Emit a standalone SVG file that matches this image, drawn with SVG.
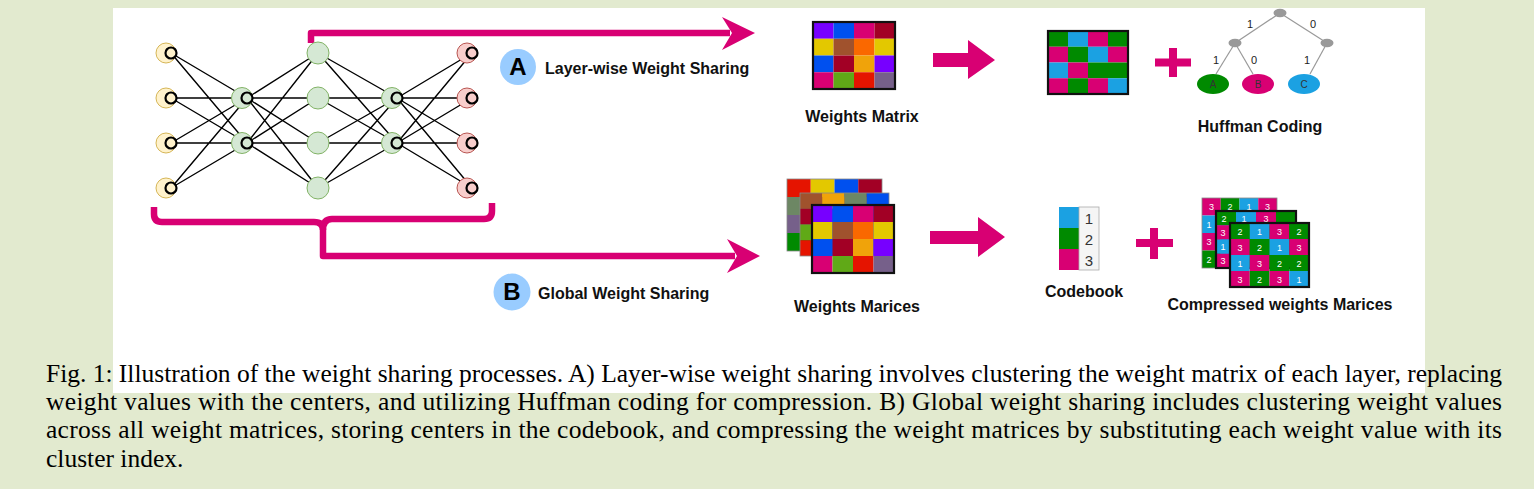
<svg xmlns="http://www.w3.org/2000/svg" width="1534" height="489" viewBox="0 0 1534 489">
<style>
.nn{stroke:#000;stroke-width:1.4;fill:none}
.ring{stroke:#000;stroke-width:2.2}
.yel{fill:#fff2cc;stroke:#d6b656;stroke-width:1}
.grn{fill:#d5e8d4;stroke:#82b366;stroke-width:1}
.red{fill:#f8cecc;stroke:#b85450;stroke-width:1}
.pk{fill:#d80073}
.pkl{stroke:#d80073;stroke-width:6.5;fill:none;stroke-linejoin:round}
.lbl{font-family:"Liberation Sans",Arial,sans-serif;font-weight:bold;font-size:16px;fill:#111}
.big{font-family:"Liberation Sans",Arial,sans-serif;font-weight:bold;font-size:24px;fill:#000;text-anchor:middle}
.num{font-family:"Liberation Sans",Arial,sans-serif;font-size:9px;fill:#fff;text-anchor:middle}
.hf{font-family:"Liberation Sans",Arial,sans-serif;font-size:11px;fill:#222;text-anchor:middle}
.hl{font-family:"Liberation Sans",Arial,sans-serif;font-size:10px;fill:#333;text-anchor:middle}
.cap{font-family:"Liberation Serif","Times New Roman",serif;font-size:25.5px;fill:#000}
.gl{stroke:#999;stroke-width:1.2}
.gn{fill:#999}
.bk{fill:none;stroke:#111;stroke-width:2.2}
.th{fill:none;stroke:#888;stroke-width:0.8}
</style>
<rect width="1534" height="489" fill="#e2eacf"/>
<rect x="113" y="8" width="1312" height="385" fill="#fff"/>

<g id="connectors">
  <g id="nn-edges">
    <path class="nn" d="M171,53L247,98M171,53L247,143M171,98L247,98M171,98L247,143M171,143L247,98M171,143L247,143M171,188L247,98M171,188L247,143"/>
    <path class="nn" d="M247,98L318,53M247,98L318,98M247,98L318,143M247,98L318,188M247,143L318,53M247,143L318,98M247,143L318,143M247,143L318,188"/>
    <path class="nn" d="M318,53L397,98M318,98L397,98M318,143L397,98M318,188L397,98M318,53L397,143M318,98L397,143M318,143L397,143M318,188L397,143"/>
    <path class="nn" d="M397,98L472,53M397,98L472,98M397,98L472,143M397,98L472,188M397,143L472,53M397,143L472,98M397,143L472,143M397,143L472,188"/>
  </g>
  <g id="arrow-A">
    <path class="pkl" d="M311,43V33H730"/>
    <polygon class="pk" points="755,33 722,17 732,33 722,50"/>
  </g>
  <g id="arrow-B">
    <path class="pkl" d="M154,207V214Q154,222 162,222H314Q323,222 323,230V256H735"/>
    <path class="pkl" d="M323,230Q323,219 332,219H484Q492,219 492,211V203"/>
    <polygon class="pk" points="760,256 727,239 737,256 727,273"/>
  </g>
  <polygon id="fat-arrow-top" class="pk" points="933,53 968,53 968,40 995,60 968,79 968,67 933,67"/>
  <polygon id="fat-arrow-bottom" class="pk" points="930,231 978,231 978,217 1005,237 978,257 978,244 930,244"/>
</g>

<g id="nn-input">
  <g id="in1"><circle class="yel" cx="166" cy="53" r="10"/><circle class="ring" fill="#fff2cc" cx="171" cy="53" r="5.5"/></g>
  <g id="in2"><circle class="yel" cx="166" cy="98" r="10"/><circle class="ring" fill="#fff2cc" cx="171" cy="98" r="5.5"/></g>
  <g id="in3"><circle class="yel" cx="166" cy="143" r="10"/><circle class="ring" fill="#fff2cc" cx="171" cy="143" r="5.5"/></g>
  <g id="in4"><circle class="yel" cx="166" cy="188" r="10"/><circle class="ring" fill="#fff2cc" cx="171" cy="188" r="5.5"/></g>
</g>
<g id="nn-hidden1">
  <g id="h1a"><circle class="grn" cx="242" cy="98" r="10.5"/><circle class="ring" fill="#d5e8d4" cx="247" cy="98" r="5.5"/></g>
  <g id="h1b"><circle class="grn" cx="242" cy="143" r="10.5"/><circle class="ring" fill="#d5e8d4" cx="247" cy="143" r="5.5"/></g>
</g>
<g id="nn-middle">
  <circle id="m1" class="grn" cx="318" cy="53" r="11"/>
  <circle id="m2" class="grn" cx="318" cy="98" r="11"/>
  <circle id="m3" class="grn" cx="318" cy="143" r="11"/>
  <circle id="m4" class="grn" cx="318" cy="188" r="11"/>
</g>
<g id="nn-hidden3">
  <g id="h3a"><circle class="grn" cx="392" cy="98" r="10.5"/><circle class="ring" fill="#d5e8d4" cx="397" cy="98" r="5.5"/></g>
  <g id="h3b"><circle class="grn" cx="392" cy="143" r="10.5"/><circle class="ring" fill="#d5e8d4" cx="397" cy="143" r="5.5"/></g>
</g>
<g id="nn-output">
  <g id="o1"><circle class="red" cx="467" cy="53" r="10"/><circle class="ring" fill="#f8cecc" cx="472" cy="53" r="5.5"/></g>
  <g id="o2"><circle class="red" cx="467" cy="98" r="10"/><circle class="ring" fill="#f8cecc" cx="472" cy="98" r="5.5"/></g>
  <g id="o3"><circle class="red" cx="467" cy="143" r="10"/><circle class="ring" fill="#f8cecc" cx="472" cy="143" r="5.5"/></g>
  <g id="o4"><circle class="red" cx="467" cy="188" r="10"/><circle class="ring" fill="#f8cecc" cx="472" cy="188" r="5.5"/></g>
</g>

<g id="label-A">
  <circle cx="518" cy="67" r="18" fill="#99ccff"/>
  <text class="big" x="518" y="75">A</text>
  <text class="lbl" x="545" y="74">Layer-wise Weight Sharing</text>
</g>
<g id="label-B">
  <circle cx="512" cy="292" r="18.5" fill="#99ccff"/>
  <text class="big" x="512" y="300">B</text>
  <text class="lbl" x="538" y="299">Global Weight Sharing</text>
</g>

<g id="weights-matrix">
  <rect x="813" y="22" width="20.5" height="16.75" fill="#7700ff"/>
  <rect x="833.5" y="22" width="20.5" height="16.75" fill="#0050ef"/>
  <rect x="854" y="22" width="20.5" height="16.75" fill="#d80073"/>
  <rect x="874.5" y="22" width="20.5" height="16.75" fill="#a20025"/>
  <rect x="813" y="38.75" width="20.5" height="16.75" fill="#e3c800"/>
  <rect x="833.5" y="38.75" width="20.5" height="16.75" fill="#a0522d"/>
  <rect x="854" y="38.75" width="20.5" height="16.75" fill="#fa6800"/>
  <rect x="874.5" y="38.75" width="20.5" height="16.75" fill="#e3c800"/>
  <rect x="813" y="55.5" width="20.5" height="16.75" fill="#0050ef"/>
  <rect x="833.5" y="55.5" width="20.5" height="16.75" fill="#a20025"/>
  <rect x="854" y="55.5" width="20.5" height="16.75" fill="#f0a30a"/>
  <rect x="874.5" y="55.5" width="20.5" height="16.75" fill="#7700ff"/>
  <rect x="813" y="72.25" width="20.5" height="16.75" fill="#d80073"/>
  <rect x="833.5" y="72.25" width="20.5" height="16.75" fill="#60a917"/>
  <rect x="854" y="72.25" width="20.5" height="16.75" fill="#e51400"/>
  <rect x="874.5" y="72.25" width="20.5" height="16.75" fill="#76608a"/>
  <rect class="bk" x="813" y="22" width="82" height="67"/>
  <text class="lbl" x="862" y="122" text-anchor="middle">Weights Matrix</text>
</g>

<g id="shared-matrix">
  <rect x="1048" y="31" width="20" height="15.75" fill="#008a00"/>
  <rect x="1068" y="31" width="20" height="15.75" fill="#1ba1e2"/>
  <rect x="1088" y="31" width="20" height="15.75" fill="#d80073"/>
  <rect x="1108" y="31" width="20" height="15.75" fill="#008a00"/>
  <rect x="1048" y="46.75" width="20" height="15.75" fill="#d80073"/>
  <rect x="1068" y="46.75" width="20" height="15.75" fill="#008a00"/>
  <rect x="1088" y="46.75" width="20" height="15.75" fill="#1ba1e2"/>
  <rect x="1108" y="46.75" width="20" height="15.75" fill="#d80073"/>
  <rect x="1048" y="62.5" width="20" height="15.75" fill="#1ba1e2"/>
  <rect x="1068" y="62.5" width="20" height="15.75" fill="#d80073"/>
  <rect x="1088" y="62.5" width="20" height="15.75" fill="#008a00"/>
  <rect x="1108" y="62.5" width="20" height="15.75" fill="#008a00"/>
  <rect x="1048" y="78.25" width="20" height="15.75" fill="#d80073"/>
  <rect x="1068" y="78.25" width="20" height="15.75" fill="#008a00"/>
  <rect x="1088" y="78.25" width="20" height="15.75" fill="#d80073"/>
  <rect x="1108" y="78.25" width="20" height="15.75" fill="#1ba1e2"/>
  <rect class="bk" x="1048" y="31" width="80" height="63"/>
</g>

<path id="plus-top" class="pk" d="M1169,48h8v10.5h14v8h-14v10.5h-8v-10.5h-14v-8h14z"/>

<g id="huffman-coding">
  <line class="gl" x1="1280" y1="13" x2="1235" y2="43"/>
  <line class="gl" x1="1280" y1="13" x2="1327" y2="43"/>
  <line class="gl" x1="1235" y1="43" x2="1216" y2="74"/>
  <line class="gl" x1="1235" y1="43" x2="1253" y2="74"/>
  <line class="gl" x1="1327" y1="43" x2="1310" y2="74"/>
  <ellipse class="gn" cx="1280" cy="13" rx="6.5" ry="4.2"/>
  <ellipse class="gn" cx="1235" cy="43" rx="6.5" ry="4.2"/>
  <ellipse class="gn" cx="1327" cy="43" rx="6.5" ry="4.2"/>
  <text class="hf" x="1250" y="28">1</text>
  <text class="hf" x="1313" y="28">0</text>
  <text class="hf" x="1216" y="64">1</text>
  <text class="hf" x="1254" y="64">0</text>
  <text class="hf" x="1307" y="64">1</text>
  <ellipse cx="1213" cy="84" rx="16" ry="10" fill="#008a00"/>
  <ellipse cx="1258" cy="84" rx="16" ry="10" fill="#d80073"/>
  <ellipse cx="1304" cy="84" rx="16" ry="10" fill="#1ba1e2"/>
  <text class="hl" x="1213" y="88">A</text>
  <text class="hl" x="1258" y="88">B</text>
  <text class="hl" x="1304" y="88">C</text>
  <text class="lbl" x="1260" y="132" text-anchor="middle">Huffman Coding</text>
</g>

<g id="weights-matrices">
  <g id="wm-back">
    <rect x="787" y="179" width="23.75" height="18" fill="#e51400"/>
    <rect x="810.75" y="179" width="23.75" height="18" fill="#e3c800"/>
    <rect x="834.5" y="179" width="23.75" height="18" fill="#0050ef"/>
    <rect x="858.25" y="179" width="23.75" height="18" fill="#a20025"/>
    <rect x="787" y="197" width="23.75" height="18" fill="#6d8764"/>
    <rect x="787" y="215" width="23.75" height="18" fill="#76608a"/>
    <rect x="787" y="233" width="23.75" height="18" fill="#008a00"/>
    <rect x="810.75" y="197" width="71.25" height="54" fill="#a0522d"/>
    <rect class="th" x="787" y="179" width="95" height="72"/>
  </g>
  <g id="wm-middle">
    <rect x="800" y="193" width="22.25" height="15.75" fill="#a0522d"/>
    <rect x="822.25" y="193" width="22.25" height="15.75" fill="#f0a30a"/>
    <rect x="844.5" y="193" width="22.25" height="15.75" fill="#6d8764"/>
    <rect x="866.75" y="193" width="22.25" height="15.75" fill="#0050ef"/>
    <rect x="800" y="208.75" width="22.25" height="15.75" fill="#a20025"/>
    <rect x="800" y="224.5" width="22.25" height="15.75" fill="#60a917"/>
    <rect x="800" y="240.25" width="22.25" height="15.75" fill="#e51400"/>
    <rect x="822.25" y="208.75" width="66.75" height="47.25" fill="#0050ef"/>
    <rect class="th" x="800" y="193" width="89" height="63"/>
  </g>
  <g id="wm-front">
    <rect x="812" y="205" width="20.5" height="17" fill="#7700ff"/>
    <rect x="832.5" y="205" width="20.5" height="17" fill="#0050ef"/>
    <rect x="853" y="205" width="20.5" height="17" fill="#d80073"/>
    <rect x="873.5" y="205" width="20.5" height="17" fill="#a20025"/>
    <rect x="812" y="222" width="20.5" height="17" fill="#e3c800"/>
    <rect x="832.5" y="222" width="20.5" height="17" fill="#a0522d"/>
    <rect x="853" y="222" width="20.5" height="17" fill="#fa6800"/>
    <rect x="873.5" y="222" width="20.5" height="17" fill="#e3c800"/>
    <rect x="812" y="239" width="20.5" height="17" fill="#0050ef"/>
    <rect x="832.5" y="239" width="20.5" height="17" fill="#a20025"/>
    <rect x="853" y="239" width="20.5" height="17" fill="#f0a30a"/>
    <rect x="873.5" y="239" width="20.5" height="17" fill="#7700ff"/>
    <rect x="812" y="256" width="20.5" height="17" fill="#d80073"/>
    <rect x="832.5" y="256" width="20.5" height="17" fill="#60a917"/>
    <rect x="853" y="256" width="20.5" height="17" fill="#e51400"/>
    <rect x="873.5" y="256" width="20.5" height="17" fill="#76608a"/>
    <rect class="bk" x="812" y="205" width="82" height="68"/>
  </g>
  <text class="lbl" x="857" y="312" text-anchor="middle">Weights Marices</text>
</g>

<g id="codebook">
  <rect x="1059" y="207" width="20" height="21" fill="#1ba1e2"/>
  <rect x="1059" y="228" width="20" height="21" fill="#008a00"/>
  <rect x="1059" y="249" width="20" height="21" fill="#d80073"/>
  <rect x="1079" y="207" width="20" height="63" fill="#f5f5f5" stroke="#aaa" stroke-width="0.8"/>
  <text x="1089" y="224" font-family="Liberation Sans,Arial,sans-serif" font-size="15" fill="#333" text-anchor="middle">1</text>
  <text x="1089" y="245" font-family="Liberation Sans,Arial,sans-serif" font-size="15" fill="#333" text-anchor="middle">2</text>
  <text x="1089" y="266" font-family="Liberation Sans,Arial,sans-serif" font-size="15" fill="#333" text-anchor="middle">3</text>
  <text class="lbl" x="1084" y="297" text-anchor="middle">Codebook</text>
</g>

<path id="plus-bottom" class="pk" d="M1150,228h8v11h15v8h-15v12h-8v-12h-14v-8h14z"/>

<g id="compressed-matrices">
  <g id="cm-back">
    <rect x="1202" y="198" width="18.75" height="17.5" fill="#d80073"/>
    <rect x="1220.75" y="198" width="18.75" height="17.5" fill="#008a00"/>
    <rect x="1239.5" y="198" width="18.75" height="17.5" fill="#1ba1e2"/>
    <rect x="1258.25" y="198" width="18.75" height="17.5" fill="#d80073"/>
    <rect x="1202" y="215.5" width="18.75" height="17.5" fill="#1ba1e2"/>
    <rect x="1202" y="233" width="18.75" height="17.5" fill="#d80073"/>
    <rect x="1202" y="250.5" width="18.75" height="17.5" fill="#008a00"/>
    <rect x="1220.75" y="215.5" width="56.25" height="52.5" fill="#1ba1e2"/>
    <rect class="th" x="1202" y="198" width="75" height="70"/>
    <text class="num" x="1211.4" y="210">3</text>
    <text class="num" x="1230.1" y="210">2</text>
    <text class="num" x="1248.9" y="210">1</text>
    <text class="num" x="1267.6" y="210">3</text>
    <text class="num" x="1209" y="227.5">1</text>
    <text class="num" x="1209" y="245">3</text>
    <text class="num" x="1209" y="262.5">2</text>
  </g>
  <g id="cm-middle">
    <rect x="1216" y="211" width="20" height="14.25" fill="#008a00"/>
    <rect x="1236" y="211" width="20" height="14.25" fill="#1ba1e2"/>
    <rect x="1256" y="211" width="20" height="14.25" fill="#d80073"/>
    <rect x="1276" y="211" width="20" height="14.25" fill="#008a00"/>
    <rect x="1216" y="225.25" width="20" height="14.25" fill="#d80073"/>
    <rect x="1216" y="239.5" width="20" height="14.25" fill="#1ba1e2"/>
    <rect x="1216" y="253.75" width="20" height="14.25" fill="#d80073"/>
    <rect x="1236" y="225.25" width="60" height="42.75" fill="#008a00"/>
    <rect class="bk" x="1216" y="211" width="80" height="57"/>
    <text class="num" x="1224" y="221.5">2</text>
    <text class="num" x="1244" y="221.5">1</text>
    <text class="num" x="1266" y="221.5">3</text>
    <text class="num" x="1223" y="235.5">3</text>
    <text class="num" x="1223" y="249.5">1</text>
    <text class="num" x="1223" y="264">3</text>
  </g>
  <g id="cm-front">
    <rect x="1230" y="223" width="19.75" height="16" fill="#008a00"/>
    <rect x="1249.75" y="223" width="19.75" height="16" fill="#1ba1e2"/>
    <rect x="1269.5" y="223" width="19.75" height="16" fill="#d80073"/>
    <rect x="1289.25" y="223" width="19.75" height="16" fill="#008a00"/>
    <rect x="1230" y="239" width="19.75" height="16" fill="#d80073"/>
    <rect x="1249.75" y="239" width="19.75" height="16" fill="#008a00"/>
    <rect x="1269.5" y="239" width="19.75" height="16" fill="#1ba1e2"/>
    <rect x="1289.25" y="239" width="19.75" height="16" fill="#d80073"/>
    <rect x="1230" y="255" width="19.75" height="16" fill="#1ba1e2"/>
    <rect x="1249.75" y="255" width="19.75" height="16" fill="#d80073"/>
    <rect x="1269.5" y="255" width="19.75" height="16" fill="#008a00"/>
    <rect x="1289.25" y="255" width="19.75" height="16" fill="#008a00"/>
    <rect x="1230" y="271" width="19.75" height="16" fill="#d80073"/>
    <rect x="1249.75" y="271" width="19.75" height="16" fill="#008a00"/>
    <rect x="1269.5" y="271" width="19.75" height="16" fill="#d80073"/>
    <rect x="1289.25" y="271" width="19.75" height="16" fill="#1ba1e2"/>
    <rect class="bk" x="1230" y="223" width="79" height="64"/>
    <text class="num" x="1239.9" y="234.5">2</text>
    <text class="num" x="1259.6" y="234.5">1</text>
    <text class="num" x="1279.4" y="234.5">3</text>
    <text class="num" x="1299.1" y="234.5">2</text>
    <text class="num" x="1239.9" y="250.5">3</text>
    <text class="num" x="1259.6" y="250.5">2</text>
    <text class="num" x="1279.4" y="250.5">1</text>
    <text class="num" x="1299.1" y="250.5">3</text>
    <text class="num" x="1239.9" y="266.5">1</text>
    <text class="num" x="1259.6" y="266.5">3</text>
    <text class="num" x="1279.4" y="266.5">2</text>
    <text class="num" x="1299.1" y="266.5">2</text>
    <text class="num" x="1239.9" y="282.5">3</text>
    <text class="num" x="1259.6" y="282.5">2</text>
    <text class="num" x="1279.4" y="282.5">3</text>
    <text class="num" x="1299.1" y="282.5">1</text>
  </g>
  <text class="lbl" x="1280" y="310" text-anchor="middle">Compressed weights Marices</text>
</g>

<g id="caption">
  <text class="cap" x="46" y="382" textLength="1456" lengthAdjust="spacing">Fig. 1: Illustration of the weight sharing processes. A) Layer-wise weight sharing involves clustering the weight matrix of each layer, replacing</text>
  <text class="cap" x="46" y="410" textLength="1456" lengthAdjust="spacing">weight values with the centers, and utilizing Huffman coding for compression. B) Global weight sharing includes clustering weight values</text>
  <text class="cap" x="46" y="438" textLength="1456" lengthAdjust="spacing">across all weight matrices, storing centers in the codebook, and compressing the weight matrices by substituting each weight value with its</text>
  <text class="cap" x="46" y="467">cluster index.</text>
</g>
</svg>
